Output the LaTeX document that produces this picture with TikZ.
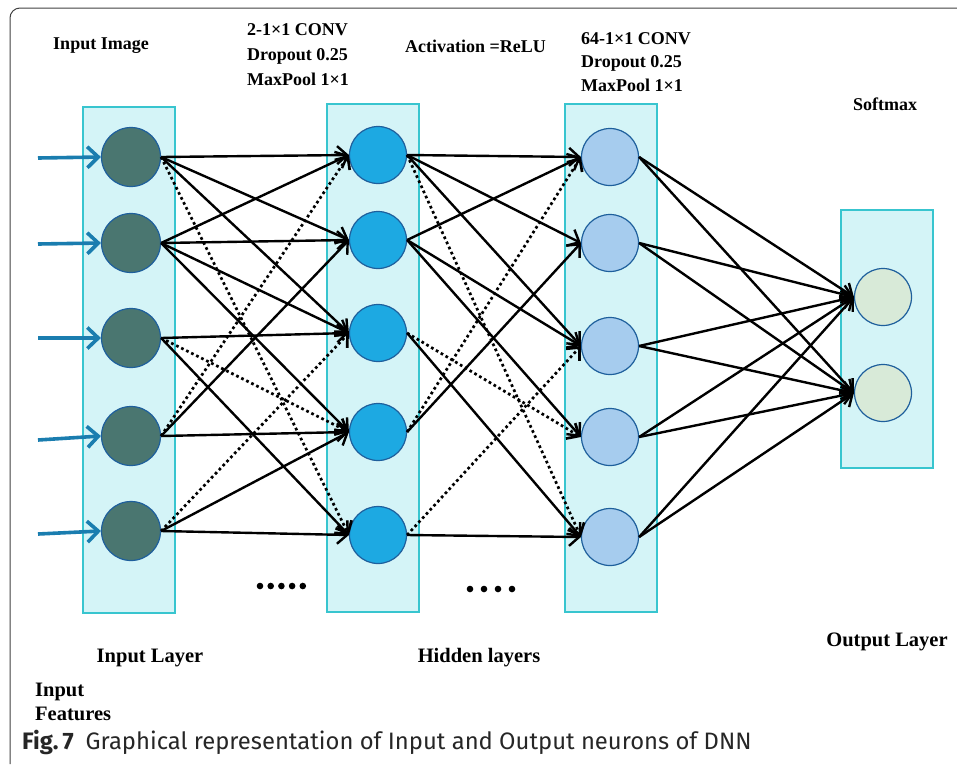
\documentclass[tikz,border=0pt]{standalone}
\usepackage{fontspec}
\setmainfont{Liberation Serif}
\newfontfamily\piefont{Fira Sans}
\usetikzlibrary{arrows.meta}

\definecolor{capafondo}{HTML}{D4F4F7}
\definecolor{capaborde}{HTML}{38C5CF}
\definecolor{bordeneurona}{HTML}{1E5F9C}
\definecolor{verdeentrada}{HTML}{4A7670}
\definecolor{azuloculta}{HTML}{1DA9E2}
\definecolor{celeste}{HTML}{A6CCEE}
\definecolor{verdesalida}{HTML}{D8EAD8}
\definecolor{azulflecha}{HTML}{1A7DAF}

\begin{document}
\begin{tikzpicture}[x=1pt, y=-1pt,
    >={Straight Barb[length=10pt,width=18pt]},
    capa/.style={draw=capaborde, fill=capafondo, line width=1.6pt},
    neurona/.style={circle, draw=bordeneurona, line width=1.2pt, minimum size=57pt, inner sep=0pt},
    enlace/.style={->, line width=2.4pt},
    punteado/.style={enlace, line width=2.7pt, dash pattern=on 2.7pt off 2.9pt},
    entrada/.style={-{Straight Barb[length=11pt,width=21pt]}, draw=azulflecha, line width=3.6pt},
    etiqueta/.style={font=\bfseries\fontsize{18}{25}\selectfont, align=left, inner sep=0pt},
    pieetiqueta/.style={etiqueta, font=\bfseries\fontsize{20.5}{24}\selectfont}]
        \useasboundingbox (0,0) rectangle (957,764);

        % Marco
        \draw[black!75, line width=1pt, rounded corners=10pt] (957,8) -- (10,8) -- (10,764);

        % Capas
        \filldraw[capa] (83,107) rectangle (175,613);
        \filldraw[capa] (327,104) rectangle (419,612);
        \filldraw[capa] (565,104) rectangle (657,612);
        \filldraw[capa] (841,210) rectangle (933,468);

        % Neuronas
        \foreach \i/\y in {1/157,2/243,3/338,4/436,5/531}
            \node[neurona, fill=verdeentrada, minimum size=59pt] (e\i) at (131,\y) {};
        \foreach \i/\y in {1/155,2/240,3/333,4/432,5/535}
            \node[neurona, fill=azuloculta] (h\i) at (378,\y) {};
        \foreach \i/\y in {1/157,2/243,3/346,4/437,5/537}
            \node[neurona, fill=celeste] (k\i) at (610,\y) {};
        \node[neurona, fill=verdesalida] (s1) at (883,297) {};
        \node[neurona, fill=verdesalida] (s2) at (883,393) {};

        % Flechas de entrada
        \foreach \i/\y in {1/158,2/244,3/338,4/440,5/534} {
            \coordinate (p\i) at (38,\y);
            \draw[entrada] (p\i) -- (e\i.west);
        }

        % Conexiones
        \foreach \a/\b in {1/1,1/2,1/3,2/1,2/2,2/3,2/4,3/3,3/5,4/2,4/4,5/4,5/5}
            \draw[enlace] (e\a.east) -- (h\b.west);
        \foreach \a/\b in {1/5,3/4,4/1,5/3}
            \draw[punteado] (e\a.east) -- (h\b.west);
        \foreach \a/\b in {1/1,1/2,1/3,2/1,2/3,2/4,3/5,4/2,5/5}
            \draw[enlace] (h\a.east) -- (k\b.west);
        \foreach \a/\b in {1/5,3/4,4/1,5/3}
            \draw[punteado] (h\a.east) -- (k\b.west);
        \foreach \a in {1,...,5}
            \foreach \b in {1,2}
                \draw[enlace] (k\a.east) -- (s\b.west);

        % Puntos suspensivos
        \foreach \i in {0,...,4}
            \fill (260+10.7*\i,586) circle (3.3);
        \foreach \i in {0,...,3}
            \fill (470+14*\i,589) circle (3.3);

        % Textos
        \node[etiqueta] (imagen) at (101,46) {Input Image};
        \node[etiqueta, anchor=west] (conv1) at (247,55) {2-1×1 CONV\\Dropout 0.25\\MaxPool 1×1};
        \node[etiqueta, anchor=west] (activ) at (405,46) {Activation =ReLU};
        \node[etiqueta, anchor=west, font=\bfseries\fontsize{18}{23.5}\selectfont] (conv2) at (581,62) {64-1×1 CONV\\Dropout 0.25\\MaxPool 1×1};
        \node[etiqueta] (softmax) at (885,104) {Softmax};
        \node[pieetiqueta] (capaent) at (150,658) {Input Layer};
        \node[pieetiqueta] (capaocu) at (479,658) {Hidden layers};
        \node[pieetiqueta] (capasal) at (887,642) {Output Layer};
        \node[pieetiqueta, anchor=west] (rasgos) at (35,702) {Input\\Features};
        \node[anchor=west, inner sep=0pt, text=black!85, font=\piefont\fontsize{23.8}{26}\selectfont] (pie) at (22,742)
            {{\bfseries Fig.\,7}\hspace{0.5em}Graphical representation of Input and Output neurons of DNN};
    \end{tikzpicture}
\end{document}
